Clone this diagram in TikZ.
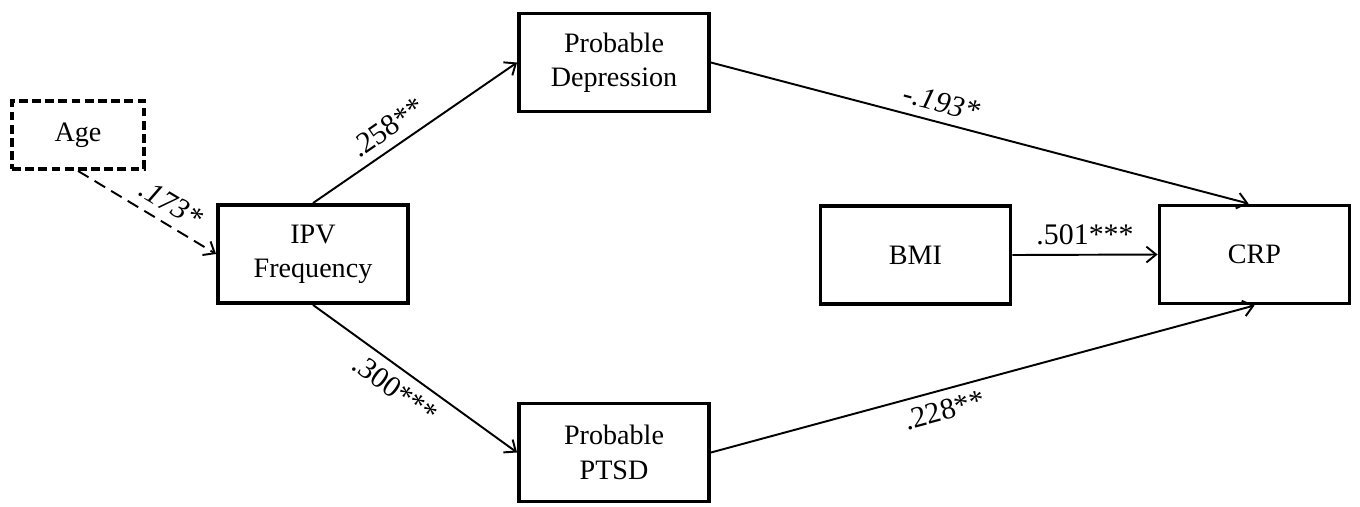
\documentclass[tikz,border=0pt]{standalone}
\usepackage{fontspec}
\setmainfont{Liberation Serif}
\usetikzlibrary{arrows.meta}

\tikzset{
  box/.style={draw, line width=2.2pt, minimum width=3.8cm, minimum height=1.96cm,
    align=center, inner sep=0pt, font=\fontsize{16}{19.5}\selectfont},
  ctrlbox/.style={box, dash pattern=on 5pt off 2.5pt, minimum width=2.64cm, minimum height=1.36cm},
  path/.style={line width=1.1pt, -{Straight Barb[length=5.5pt,width=9pt,line width=1.1pt]}},
  coef/.style={font=\fontsize{17}{20}\selectfont, inner sep=5pt}
}

\begin{document}
\begin{tikzpicture}
  \useasboundingbox (0,0) rectangle (27.2,-10.12);
  % variables
  \node[ctrlbox] (age) at (1.56,-2.7) {Age};
  \node[box] (ipv) at (6.26,-5.08) {IPV\\Frequency};
  \node[box] (dep) at (12.28,-1.25) {Probable\\Depression};
  \node[box] (ptsd) at (12.28,-9.05) {Probable\\PTSD};
  \node[box] (bmi) at (18.31,-5.1) {BMI};
  \node[box] (crp) at (25.09,-5.09) {CRP};
  % paths
  \draw[path, dash pattern=on 7pt off 4pt] (age.south) -- node[coef, pos=0.6, sloped, above] {\itshape .173*} (ipv.west);
  \draw[path] (ipv.north) -- node[coef, pos=0.42, sloped, above] {.258**} (dep.west);
  \draw[path] (ipv.south) -- node[coef, pos=0.46, sloped, below] {.300***} (ptsd.west);
  \draw[path] (dep.east) -- node[coef, pos=0.42, sloped, above] {\itshape -.193*} ([xshift=-0.12cm]crp.north);
  \draw[path] (ptsd.east) -- node[coef, pos=0.42, sloped, below] {.228**} (crp.south);
  \draw[path] (bmi.east) -- node[coef, above] {.501***} (crp.west);
\end{tikzpicture}
\end{document}
